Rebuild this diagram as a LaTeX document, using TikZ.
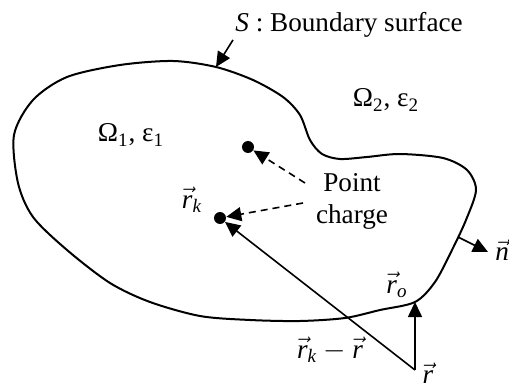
\documentclass[tikz,border=0pt]{standalone}
\usepackage{amsmath}
\usepackage{fontspec}
\setmainfont{Liberation Serif}
\usetikzlibrary{arrows.meta}
\newcommand{\rvec}[1]{\(\vec{\textit{r}}_{\textit{#1}}\)}

\begin{document}
\begin{tikzpicture}[x=0.5pt,y=-0.5pt,
    lbl/.style={font=\fontsize{13.6}{16}\selectfont,inner sep=1pt},
    arr/.style={-{Triangle[length=7.5pt,width=7pt]},line width=0.8pt},
    ptc/.style={circle,fill,inner sep=0pt,minimum size=6pt}
  ]
    \useasboundingbox (0,0) rectangle (509,390);
    % boundary surface
    \draw[line width=1pt] plot[smooth cycle] coordinates {
      (14,135) (33,100) (67,77) (120,65) (173,61) (216,67) (253,80) (283,97)
      (300,115) (310,140) (322,154) (340,159) (367,157) (400,154) (443,158)
      (467,170) (476,190) (466,220) (452,250) (435,282) (415,302) (380,310)
      (345,318) (300,321) (250,320) (200,316) (150,302) (110,283) (67,250)
      (33,217) (18,183)};
    \node[lbl,anchor=west] (Slabel) at (233,25) {\textit{S} : Boundary surface};
    \coordinate (Sb) at (216,67);
    \draw[arr] (Slabel.south west) -- (Sb);
    \node[lbl] (om1) at (131,135) {Ω\textsubscript{1}, ε\textsubscript{1}};
    \node[lbl] (om2) at (386,100) {Ω\textsubscript{2}, ε\textsubscript{2}};
    % point charges
    \node[ptc] (q1) at (248,147) {};
    \node[ptc] (qk) at (220,218) {};
    \node[lbl,align=center] (pc) at (352,201) {Point\\charge};
    \coordinate (d1) at (305,183);
    \coordinate (d2) at (303,203);
    \draw[arr,dash pattern=on 3.5pt off 2.5pt] (d1) -- (q1);
    \draw[arr,dash pattern=on 3.5pt off 2.5pt] (d2) -- (qk);
    \node[lbl] (rk) at (192,200) {\rvec{k}};
    % position vectors
    \coordinate (r) at (415,370);
    \coordinate (ro) at (415,302);
    \draw[arr] (r) -- (ro);
    \draw[arr] (r) -- (qk);
    \node[lbl] (rolbl) at (397,285) {\rvec{o}};
    \node[lbl] (rklbl) at (330,350) {\(\vec{\textit{r}}_{\textit{k}}-\vec{\textit{r}}\)};
    \node[lbl,anchor=south] (rlbl) at (428,386) {\(\vec{\textit{r}}\)};
    % normal
    \coordinate (nb) at (458,237);
    \coordinate (ne) at (488,252);
    \draw[arr] (nb) -- (ne);
    \node[lbl,anchor=west] (nlbl) at (493,250) {\(\vec{\textit{n}}\)};
  \end{tikzpicture}
\end{document}
